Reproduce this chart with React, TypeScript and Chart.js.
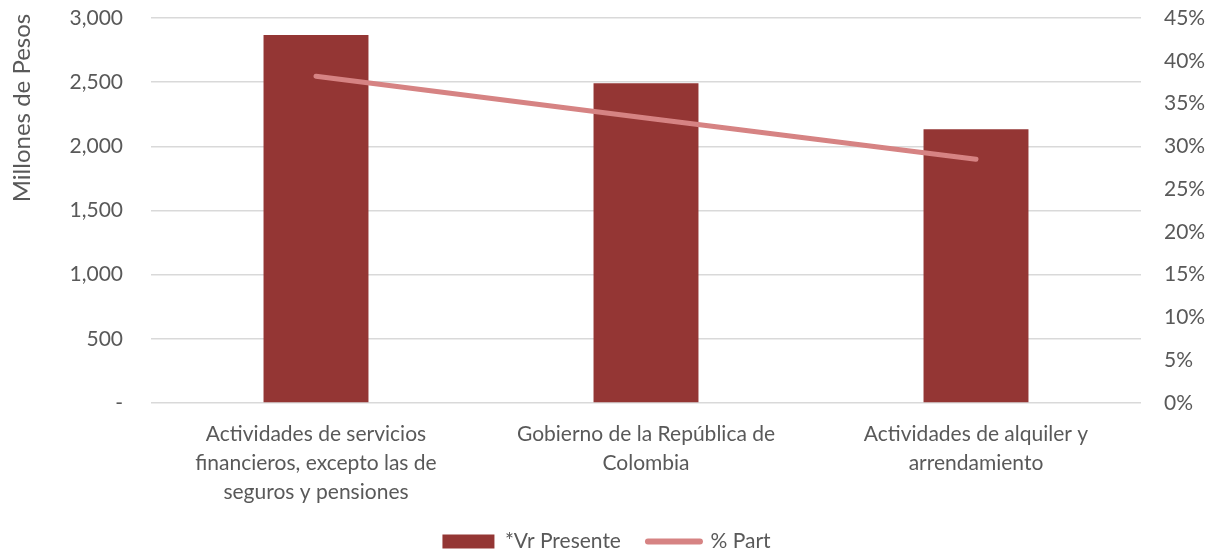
import React, { useEffect, useRef } from "react";
import { Chart, registerables } from "chart.js";

Chart.register(...registerables);

const categories: string[][] = [
  ["Actividades de servicios", "financieros, excepto las de", "seguros y pensiones"],
  ["Gobierno de la República de", "Colombia"],
  ["Actividades de alquiler y", "arrendamiento"],
];
const vrPresente: number[] = [2867, 2492, 2133];
const pctPart: number[] = [0.382, 0.333, 0.285];
const leftTicks = { min: 0, max: 3000, step: 500 };
const rightTicks = { min: 0, max: 0.45, step: 0.05 };
const yTitle = "Millones de Pesos";

const FONT = "Lato, 'Open Sans', sans-serif";
const GREY = "#595959";
const BAR = "#943634";
const LINE = "#d68383";

const yTitlePlugin = {
  id: "yTitleCustom",
  afterDraw(chart: any) {
    const { ctx } = chart;
    ctx.save();
    ctx.translate(22, 108);
    ctx.rotate(-Math.PI / 2);
    ctx.font = `24px ${FONT}`;
    ctx.fillStyle = GREY;
    ctx.textAlign = "center";
    ctx.textBaseline = "middle";
    ctx.fillText(yTitle, 0, 0);
    ctx.restore();
  },
};

export default function App() {
  const ref = useRef<HTMLCanvasElement | null>(null);
  useEffect(() => {
    document.body.style.margin = "0";
    const ctx = ref.current!;
    const chart = new Chart(ctx, {
      type: "bar",
      data: {
        labels: categories,
        datasets: [
          {
            type: "line",
            label: "% Part",
            data: pctPart,
            yAxisID: "y1",
            borderColor: LINE,
            backgroundColor: LINE,
            borderWidth: 5,
            pointRadius: 0,
            borderCapStyle: "round",
            order: 0,
          } as any,
          {
            type: "bar",
            label: "*Vr Presente",
            data: vrPresente,
            yAxisID: "y",
            backgroundColor: BAR,
            categoryPercentage: 1,
            barPercentage: 0.318,
            order: 1,
          },
        ],
      },
      plugins: [yTitlePlugin],
      options: {
        animation: false,
        responsive: false,
        maintainAspectRatio: false,
        layout: { padding: { top: 18, bottom: -8, left: 0, right: 0 } },
        plugins: {
          legend: {
            position: "bottom",
            reverse: true,
            labels: {
              font: { family: FONT, size: 21 },
              color: GREY,
              usePointStyle: true,
              pointStyleWidth: 52,
              boxWidth: 52,
              boxHeight: 14,
              padding: 27,
              generateLabels: (c: any) => {
                const items = Chart.defaults.plugins.legend.labels.generateLabels(c);
                return items.map((it: any) => {
                  if (it.text === "% Part") {
                    return { ...it, pointStyle: "line", lineWidth: 6, lineCap: "round", strokeStyle: LINE, fillStyle: LINE };
                  }
                  return { ...it, pointStyle: "rect", lineWidth: 0, fillStyle: BAR, strokeStyle: BAR };
                });
              },
            },
          },
          tooltip: { enabled: false },
        },
        scales: {
          x: {
            grid: { display: false },
            border: { display: false },
            ticks: {
              font: { family: FONT, size: 21, lineHeight: 1.38 },
              color: GREY,
              padding: 9,
              maxRotation: 0,
              autoSkip: false,
            },
            afterFit: (s: any) => {
              s.height = 101;
            },
          },
          y: {
            position: "left",
            min: leftTicks.min,
            max: leftTicks.max,
            ticks: {
              stepSize: leftTicks.step,
              font: { family: FONT, size: 21 },
              color: GREY,
              padding: 0,
              callback: (v: any) => (v === 0 ? "-" : Number(v).toLocaleString("en-US")),
            },
            grid: { color: "#d9d9d9", lineWidth: 1.5, drawTicks: true, tickLength: 28, tickColor: "rgba(0,0,0,0)" },
            border: { display: false },
            afterFit: (s: any) => {
              s.width = 151;
            },
          },
          y1: {
            position: "right",
            min: rightTicks.min,
            max: rightTicks.max,
            grid: { display: true, drawOnChartArea: false, drawTicks: true, tickLength: 23, tickColor: "rgba(0,0,0,0)", color: "rgba(0,0,0,0)" },
            border: { display: false },
            ticks: {
              stepSize: rightTicks.step,
              font: { family: FONT, size: 21 },
              color: GREY,
              padding: 0,
              callback: (v: any) => Math.round(Number(v) * 100) + "%",
            },
            afterFit: (s: any) => {
              s.width = 72;
            },
          },
        },
      },
    });
    return () => chart.destroy();
  }, []);
  return (
    <div style={{ position: "absolute", left: 0, top: 0, width: 1213, height: 554, background: "#fff" }}>
      <canvas ref={ref} width={1213} height={554} style={{ width: 1213, height: 554 }} />
    </div>
  );
}
